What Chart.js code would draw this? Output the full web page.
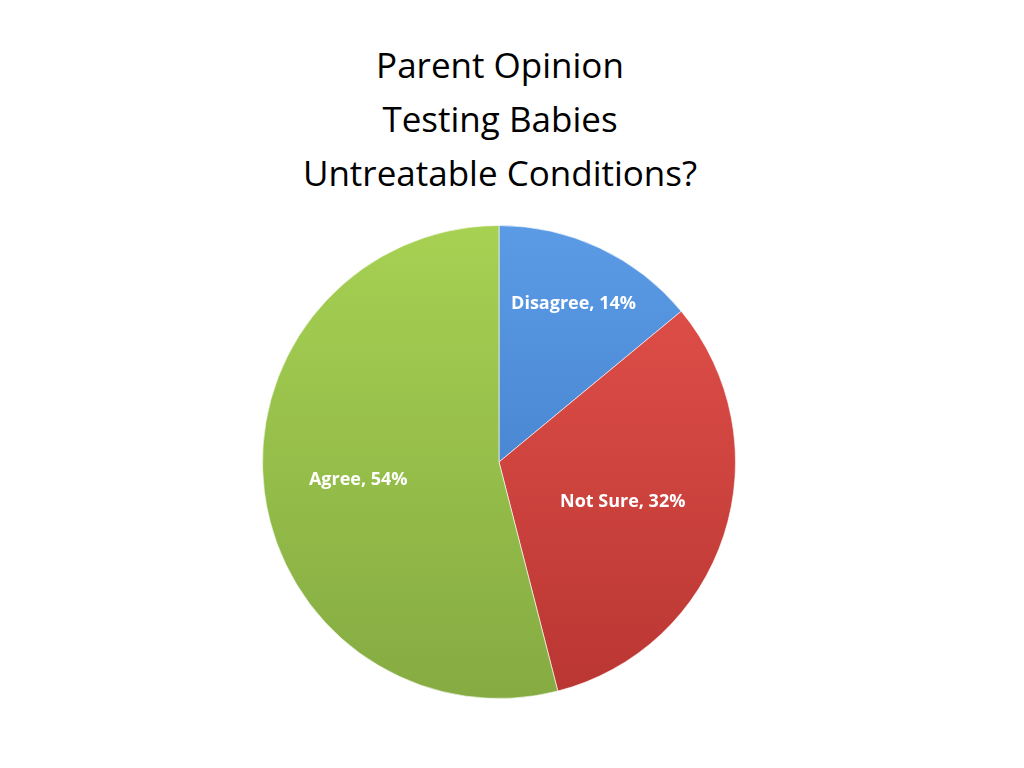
<!DOCTYPE html>
<html><head><meta charset="utf-8">
<script src="https://cdn.jsdelivr.net/npm/chart.js@4"></script>
<style>
html,body{margin:0;padding:0;background:#fff;width:1024px;height:768px;overflow:hidden;}
#title{position:absolute;left:0;top:38px;width:1000px;text-align:center;font-family:"Open Sans","Liberation Sans",sans-serif;font-size:35px;line-height:54px;color:#000;}
#wrap{position:absolute;left:257px;top:220px;width:484px;height:484px;}
</style></head>
<body>
<div id="title">Parent Opinion<br>Testing Babies<br>Untreatable Conditions?</div>
<div id="wrap"><canvas id="c" width="484" height="484"></canvas></div>
<script>
const categories = ["Disagree", "Not Sure", "Agree"];
const values = [14, 32, 54];
const colorsLight = ["#5b9be6", "#e5524c", "#a6d152"];
const colorsDark = ["#3a74c0", "#b93632", "#85ab42"];
const labelRadius = [0.74, 0.55, 0.6];

const labelPlugin = {
  id: 'sliceLabels',
  afterDatasetsDraw(chart) {
    const ctx = chart.ctx;
    const meta = chart.getDatasetMeta(0);
    ctx.save();
    ctx.font = 'bold 18px "Open Sans","Liberation Sans",sans-serif';
    ctx.fillStyle = '#fff';
    ctx.textAlign = 'center';
    ctx.textBaseline = 'middle';
    meta.data.forEach((arc, i) => {
      const p = arc.getProps(['x','y','startAngle','endAngle','outerRadius'], true);
      const a = (p.startAngle + p.endAngle) / 2;
      const r = p.outerRadius * labelRadius[i];
      ctx.fillText(categories[i] + ', ' + values[i] + '%', p.x + Math.cos(a) * r, p.y + Math.sin(a) * r);
    });
    ctx.restore();
  }
};

new Chart(document.getElementById('c'), {
  type: 'pie',
  data: {
    labels: categories,
    datasets: [{
      data: values,
      backgroundColor: (c) => {
        const chart = c.chart;
        const area = chart.chartArea;
        if (!area) return colorsLight[c.dataIndex];
        const g = chart.ctx.createLinearGradient(0, area.top, 0, area.bottom);
        g.addColorStop(0, colorsLight[c.dataIndex]);
        g.addColorStop(1, colorsDark[c.dataIndex]);
        return g;
      },
      borderColor: 'rgba(255,255,255,0.6)',
      borderWidth: 1
    }]
  },
  options: {
    responsive: false,
    animation: false,
    layout: { padding: 5 },
    plugins: { legend: { display: false }, tooltip: { enabled: false }, title: { display: false } }
  },
  plugins: [labelPlugin]
});
</script>
</body></html>
